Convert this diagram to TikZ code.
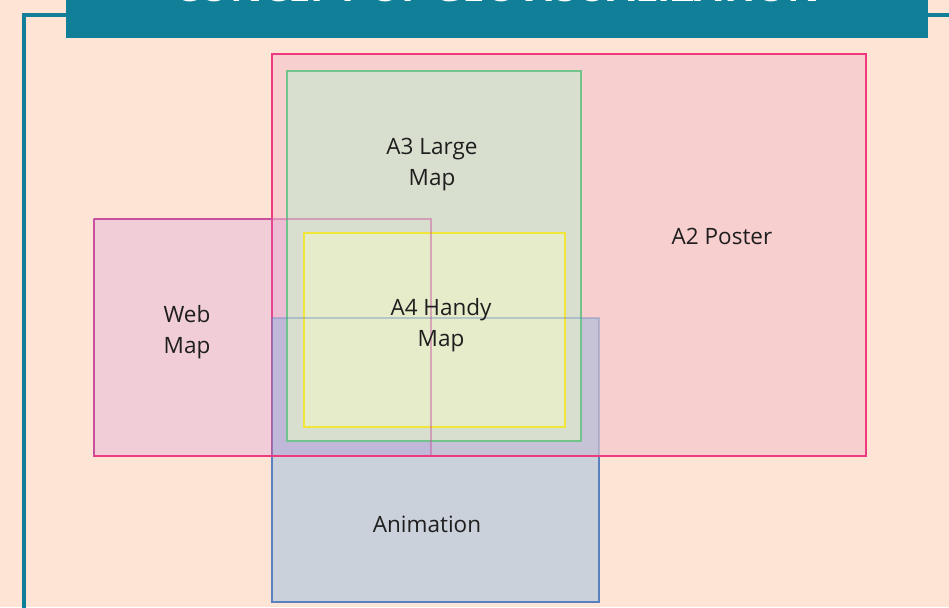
\documentclass[tikz,border=0pt]{standalone}
\usepackage{fontspec}
\setmainfont{Open Sans}
\definecolor{peach}{HTML}{FEE4D4}
\definecolor{teal}{HTML}{127F99}
\definecolor{postfill}{HTML}{F8CFCF}
\definecolor{postline}{HTML}{EE3A7E}
\definecolor{a3fill}{HTML}{D9DFCF}
\definecolor{a3line}{HTML}{73C48C}
\definecolor{a4fill}{HTML}{E6ECCA}
\definecolor{a4line}{HTML}{F0E63A}
\definecolor{webfill}{HTML}{BE78E6}
\definecolor{webline}{HTML}{C8509E}
\definecolor{animfill}{HTML}{6EAFE6}
\definecolor{animline}{HTML}{5B80C0}
\definecolor{txt}{HTML}{1E1E1E}
\tikzset{
  lbl/.style={text=txt, font=\fontsize{22.5}{31}\selectfont, align=center, inner sep=0pt},
  area/.style={line width=1.8pt},
}
\begin{document}
\begin{tikzpicture}[x=1pt,y=-1pt]
\useasboundingbox (0,0) rectangle (949,607);
\fill[peach] (0,0) rectangle (949,607);
% frame line
\draw[teal, line width=3.5pt] (24,620) -- (24,15) -- (66,15);
\draw[teal, line width=3.5pt] (928,15) -- (960,15);
% banner
\fill[teal] (66,-10) rectangle (928,38);
\node[anchor=base, text=white, font=\fontsize{40}{40}\bfseries\selectfont, inner sep=0pt] (title) at (497,1.2) {CONCEPT OF GEOVISUALIZATION};
% A2 poster
\draw[area, postline, fill=postfill] (272,54) rectangle (866,456);
% web map
\fill[webfill, fill opacity=0.2] (94,219) rectangle (431,456);
% animation
\fill[animfill, fill opacity=0.35] (272,318) rectangle (599,602);
% A3
\draw[area, a3line, fill=a3fill] (287,71) rectangle (581,441);
% A4
\draw[area, a4line, fill=a4fill] (304,233) rectangle (565,427);
% translucent borders on top
\draw[webline, line width=1.3pt, draw opacity=0.45] (94,219) rectangle (431,456);
\draw[animline, line width=1.5pt, draw opacity=0.35] (272,318) rectangle (599,602);
\draw[webline, line width=1.5pt] (94,219) -- (272,219) (94,219) -- (94,456) -- (272,456);
\draw[animline, line width=1.5pt] (272,456) -- (272,602) -- (599,602) -- (599,456);
\draw[postline, line width=1.8pt] (94,456) -- (866,456);
% labels
\node[lbl] (a2) at (722,236) {A2 Poster};
\node[lbl] (a3) at (432,165) {A3 Large\\Map};
\node[lbl] (web) at (187,332) {Web\\Map};
\node[lbl] (a4) at (441,325) {A4 Handy\\Map};
\node[lbl] (anim) at (427,524) {Animation};
\end{tikzpicture}
\end{document}
